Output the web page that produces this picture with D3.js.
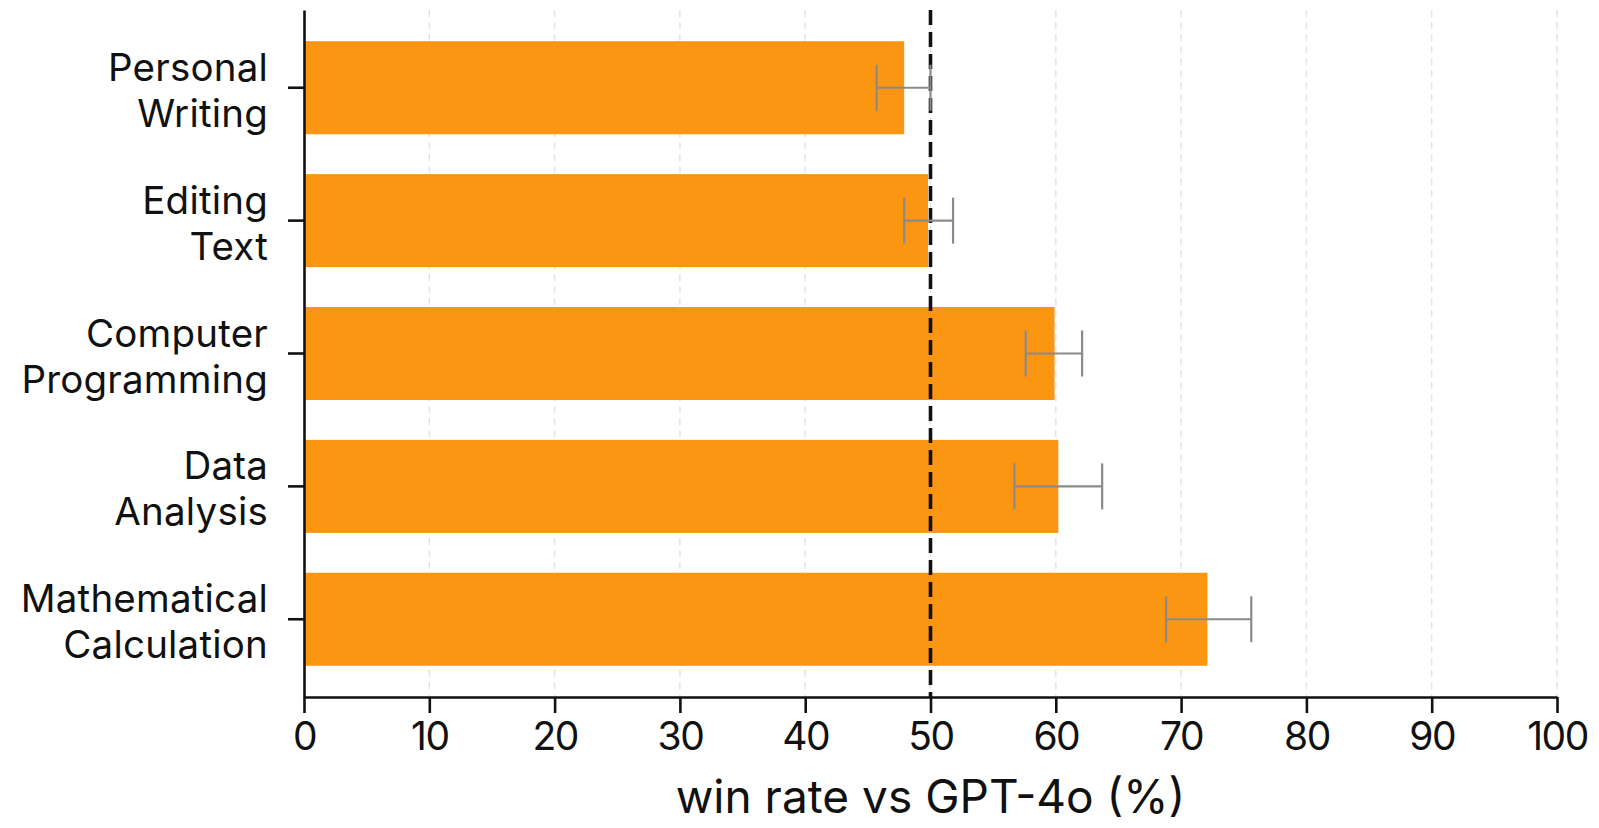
<!DOCTYPE html>
<html>
<head>
<meta charset="utf-8">
<script src="https://cdn.jsdelivr.net/npm/d3@7"></script>
<style>
  html, body { margin: 0; padding: 0; background: #fff; }
  svg { display: block; }
  text { font-family: Inter, "Noto Sans", sans-serif; fill: #111; }
</style>
</head>
<body>
<svg id="chart" width="1599" height="828"></svg>
<script>
const categories = [
  ["Personal", "Writing"],
  ["Editing", "Text"],
  ["Computer", "Programming"],
  ["Data", "Analysis"],
  ["Mathematical", "Calculation"]
];
const winRates = [47.9, 49.8, 59.9, 60.2, 72.1];
const errLow  = [45.7, 47.9, 57.6, 56.7, 68.8];
const errHigh = [50.0, 51.8, 62.1, 63.7, 75.6];
const xTicks = [0, 10, 20, 30, 40, 50, 60, 70, 80, 90, 100];
const referenceLine = 50;
const xLabel = "win rate vs GPT-4o (%)";

const svg = d3.select("#chart");
const mLeft = 304, mRight = 1557, mTop = 10, mBottom = 697;

const keys = categories.map((c, i) => i);
const x = d3.scaleLinear().domain([0, 100]).range([mLeft, mRight]);
const y = d3.scaleBand().domain(keys).range([mTop, mBottom])
  .paddingInner(0.3).paddingOuter(0.235);

// grid lines
svg.append("g").selectAll("line").data(xTicks.slice(1)).join("line")
  .attr("x1", d => x(d)).attr("x2", d => x(d))
  .attr("y1", mTop).attr("y2", mBottom)
  .attr("stroke", "#e4e4e4").attr("stroke-width", 1.5)
  .attr("stroke-dasharray", "7,5");

// bars
svg.append("g").selectAll("rect").data(keys).join("rect")
  .attr("x", x(0))
  .attr("y", i => y(i))
  .attr("width", i => x(winRates[i]) - x(0))
  .attr("height", y.bandwidth())
  .attr("fill", "#fa9612");

// reference line
svg.append("line")
  .attr("x1", x(referenceLine)).attr("x2", x(referenceLine))
  .attr("y1", mTop).attr("y2", mBottom)
  .attr("stroke", "#111").attr("stroke-width", 3.6)
  .attr("stroke-dasharray", "15,7");

// error bars
const eb = svg.append("g").attr("stroke", "#8a8a8a").attr("stroke-width", 2.2).attr("fill", "none");
const capH = 23;
keys.forEach(i => {
  const cy = y(i) + y.bandwidth() / 2;
  eb.append("line").attr("x1", x(errLow[i])).attr("x2", x(errHigh[i])).attr("y1", cy).attr("y2", cy);
  eb.append("line").attr("x1", x(errLow[i])).attr("x2", x(errLow[i])).attr("y1", cy - capH).attr("y2", cy + capH);
  eb.append("line").attr("x1", x(errHigh[i])).attr("x2", x(errHigh[i])).attr("y1", cy - capH).attr("y2", cy + capH);
});

// x axis
const xAxis = svg.append("g").attr("transform", `translate(0,${mBottom})`)
  .call(d3.axisBottom(x).tickValues(xTicks).tickSize(16).tickPadding(9).tickSizeOuter(0));
xAxis.select(".domain").attr("stroke", "#111").attr("stroke-width", 2.6);
xAxis.selectAll(".tick line").attr("stroke", "#111").attr("stroke-width", 2.6);
xAxis.selectAll(".tick text").attr("font-size", 39).attr("font-family", "Inter, sans-serif").attr("fill", "#111").attr("letter-spacing", -1.5);

// y axis
const yAxis = svg.append("g").attr("transform", `translate(${mLeft},0)`)
  .call(d3.axisLeft(y).tickSize(16).tickSizeOuter(0).tickFormat(() => ""));
yAxis.select(".domain").attr("stroke", "#111").attr("stroke-width", 2.6);
yAxis.selectAll(".tick line").attr("stroke", "#111").attr("stroke-width", 2.6);
yAxis.selectAll(".tick").each(function(i) {
  const t = d3.select(this).select("text")
    .attr("x", -36).attr("dy", null).attr("y", 0)
    .attr("font-size", 38.5).attr("text-anchor", "end").attr("fill", "#111")
    .attr("letter-spacing", 0.2);
  t.selectAll("tspan").data(categories[i]).join("tspan")
    .attr("x", -36)
    .attr("y", (d, j) => j === 0 ? -7 : 39)
    .text(d => d);
});

// x label
svg.append("text")
  .attr("x", x(50)).attr("y", 813)
  .attr("text-anchor", "middle").attr("font-size", 46).attr("letter-spacing", 0)
  .text(xLabel);
</script>
</body>
</html>
